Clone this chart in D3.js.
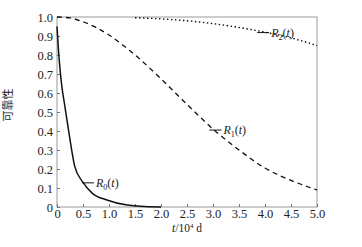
<!DOCTYPE html>
<html>
<head>
<meta charset="utf-8">
<script src="https://cdn.jsdelivr.net/npm/d3@7"></script>
<style>
  body { margin: 0; background: #fff; }
  svg text { fill: #222; }
</style>
</head>
<body>
<svg class="rel" width="362" height="247"></svg>
<script>
// values (t in 10^4 d)
const t0 = [0, 0.03, 0.06, 0.1, 0.14, 0.23, 0.34, 0.49, 0.68, 0.96, 1.35, 1.6, 2.0];
const r0 = [0.95, 0.82, 0.72, 0.62, 0.55, 0.39, 0.215, 0.133, 0.072, 0.037, 0.01, 0.004, 0];

const t1 = [0, 0.25, 0.5, 0.75, 1, 1.5, 2, 2.5, 3, 3.5, 4, 4.5, 5];
const r1 = [1.0, 0.995, 0.975, 0.945, 0.905, 0.80, 0.675, 0.54, 0.41, 0.30, 0.205, 0.14, 0.09];

const t2 = [1.5, 2, 2.5, 3, 3.5, 4, 4.5, 5];
const r2 = [0.996, 0.99, 0.98, 0.965, 0.945, 0.92, 0.89, 0.85];

const xTicks = [0, 0.5, 1, 1.5, 2, 2.5, 3, 3.5, 4, 4.5, 5];
const yTicks = [0, 0.1, 0.2, 0.3, 0.4, 0.5, 0.6, 0.7, 0.8, 0.9, 1.0];

const serif = "'Liberation Serif', 'Times New Roman', Times, serif";

(function drawReliability() {
    const svg = d3.select("svg.rel");
    const margin = {top: 17, right: 45, bottom: 40, left: 57};
    const width = 362 - margin.left - margin.right;
    const height = 247 - margin.top - margin.bottom;
    const g = svg.append("g").attr("transform", "translate(" + margin.left + "," + margin.top + ")");

    const x = d3.scaleLinear().domain([0, 5]).range([0, width]);
    const y = d3.scaleLinear().domain([0, 1]).range([height, 0]);
    const fmt = d => d === 0 ? "0" : d3.format(".1f")(d);

    // frame
    g.append("rect")
        .attr("width", width).attr("height", height)
        .attr("fill", "none").attr("stroke", "#999").attr("stroke-width", 1);

    const xAx = g.append("g")
        .attr("transform", "translate(0," + height + ")")
        .call(d3.axisBottom(x).tickValues(xTicks).tickFormat(fmt).tickSize(-3).tickPadding(2));
    const yAx = g.append("g")
        .call(d3.axisLeft(y).tickValues(yTicks).tickFormat(fmt).tickSize(-3).tickPadding(4));
    [xAx, yAx].forEach(a => {
        a.attr("font-family", null).attr("font-size", null);
        a.select(".domain").remove();
        a.selectAll(".tick line").attr("stroke", "#777");
        a.selectAll(".tick text")
            .style("font-family", serif)
            .style("font-size", "12.5px")
            .attr("fill", "#222");
    });

    g.append("text")
        .attr("x", width / 2).attr("y", height + 25)
        .attr("text-anchor", "middle")
        .style("font-family", serif).style("font-size", "11.5px")
        .html('<tspan font-style="italic">t</tspan>/10<tspan dy="-4" font-size="7px">4</tspan><tspan dy="4"> d</tspan>');

    svg.append("text")
        .attr("transform", "translate(12,105) rotate(-90)")
        .attr("text-anchor", "middle")
        .style("font-family", "'Noto Sans CJK SC', sans-serif")
        .style("font-size", "11px")
        .text("可靠性");

    const line = d3.line().curve(d3.curveMonotoneX)
        .x(d => x(d[0])).y(d => y(d[1]));

    const series = [
        {t: t0, r: r0, dash: null, w: 1.5},
        {t: t1, r: r1, dash: "5,4", w: 1.3},
        {t: t2, r: r2, dash: "1.5,2.5", w: 1.4}
    ];
    series.forEach(s => {
        g.append("path")
            .datum(d3.zip(s.t, s.r))
            .attr("fill", "none")
            .attr("stroke", "#111")
            .attr("stroke-width", s.w)
            .attr("stroke-dasharray", s.dash)
            .attr("d", line);
    });

    // curve labels with leader lines
    const labels = [
        {sub: "0", t: 0.48, r: 0.127, tx: 0.75},
        {sub: "1", t: 2.93, r: 0.405, tx: 3.2},
        {sub: "2", t: 3.85, r: 0.918, tx: 4.12}
    ];
    labels.forEach(l => {
        g.append("line")
            .attr("x1", x(l.t)).attr("x2", x(l.tx) - 2)
            .attr("y1", y(l.r)).attr("y2", y(l.r))
            .attr("stroke", "#111").attr("stroke-width", 1);
        g.append("text")
            .attr("x", x(l.tx)).attr("y", y(l.r) + 4)
            .style("font-family", serif)
            .style("font-size", "12px")
            .html('<tspan font-style="italic">R</tspan><tspan dy="3" font-size="8px">' + l.sub +
                  '</tspan><tspan dy="-3">(</tspan><tspan font-style="italic">t</tspan><tspan>)</tspan>');
    });
})();
</script>
</body>
</html>
